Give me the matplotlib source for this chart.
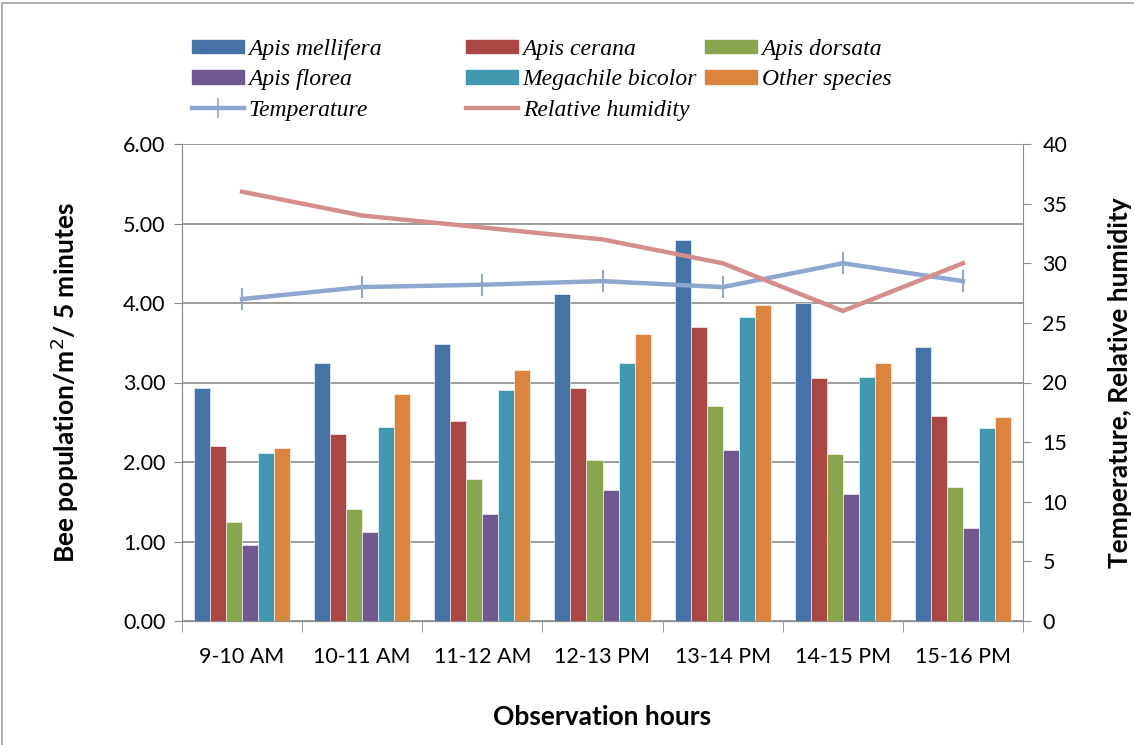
import numpy as np
import matplotlib
matplotlib.use("Agg")
import matplotlib.pyplot as plt
from matplotlib.patches import Rectangle
from matplotlib.lines import Line2D
from matplotlib.patches import Patch

hours = ["9-10 AM", "10-11 AM", "11-12 AM", "12-13 PM", "13-14 PM", "14-15 PM", "15-16 PM"]
species = ["Apis mellifera", "Apis cerana", "Apis dorsata", "Apis florea",
           "Megachile bicolor", "Other species"]
mellifera = [2.93, 3.25, 3.48, 4.11, 4.79, 4.00, 3.45]
cerana = [2.20, 2.35, 2.51, 2.93, 3.70, 3.06, 2.58]
dorsata = [1.25, 1.41, 1.78, 2.02, 2.70, 2.10, 1.68]
florea = [0.96, 1.12, 1.34, 1.65, 2.15, 1.60, 1.17]
megachile = [2.11, 2.44, 2.90, 3.25, 3.82, 3.07, 2.43]
other = [2.18, 2.85, 3.16, 3.61, 3.98, 3.25, 2.56]
temperature = [27, 28, 28.2, 28.5, 28, 30, 28.5]
humidity = [36, 34, 33, 32, 30, 26, 30]

bar_colors = ["#4572A7", "#AA4643", "#89A54E", "#71588F", "#4198AF", "#DB843D"]
temp_color = "#8EA6D0"
hum_color = "#D48E8E"
grid_gray = "#8C8C8C"

plt.rcParams["font.family"] = ["Lato", "DejaVu Sans"]

fig = plt.figure(figsize=(11.34, 7.45), dpi=100)
ax = fig.add_axes([182 / 1134, 1 - 621 / 745, (1023 - 182) / 1134, (621 - 144) / 745])

x = np.arange(len(hours))
w = 0.8 / 6
series = [mellifera, cerana, dorsata, florea, megachile, other]
for i, vals in enumerate(series):
    ax.bar(x - 0.4 + w * (i + 0.5), vals, width=w, color=bar_colors[i],
           edgecolor="white", linewidth=0.4, zorder=3)

ax.set_xlim(-0.5, len(hours) - 0.5)
ax.set_ylim(0, 6)
ax.set_yticks(np.arange(0, 6.01, 1))
ax.set_yticklabels([f"{v:.2f}" for v in np.arange(0, 6.01, 1)])
ax.yaxis.grid(True, color=grid_gray, linewidth=1.2, zorder=0)
ax.set_axisbelow(True)
ax.set_xticks(x)
ax.set_xticklabels(hours)
ax.set_xticks(np.arange(-0.5, len(hours), 1), minor=True)
ax.tick_params(axis="x", which="major", length=0, pad=19, labelsize=15.5)
ax.tick_params(axis="x", which="minor", length=8, color=grid_gray, direction="out")
ax.tick_params(axis="y", length=6, color=grid_gray, labelsize=15.5, pad=6)
for s in ["left", "bottom", "top", "right"]:
    ax.spines[s].set_color(grid_gray)
ax.spines["top"].set_visible(False)
ax.spines["right"].set_visible(False)
ax.set_ylabel("Bee population/m$^2$/ 5 minutes", fontsize=19, fontweight="bold", labelpad=30)
ax.set_xlabel("Observation hours", fontsize=19, fontweight="bold", labelpad=27)

ax2 = ax.twinx()
ax2.plot(x, temperature, color=temp_color, linewidth=3.2, marker="|",
         markersize=16, markeredgewidth=1.5, zorder=5)
ax2.plot(x, humidity, color=hum_color, linewidth=3.2, zorder=5)
ax2.set_ylim(0, 40)
ax2.set_yticks(np.arange(0, 41, 5))
ax2.tick_params(axis="y", length=6, color=grid_gray, labelsize=15.5, pad=8)
for s in ["left", "bottom", "top", "right"]:
    ax2.spines[s].set_color(grid_gray)
ax2.spines["top"].set_visible(False)
ax2.set_ylabel("Temperature, Relative humidity", fontsize=19, fontweight="bold", labelpad=29)

# legend, three columns placed separately
leg_font = {"family": ["Liberation Serif", "DejaVu Serif"], "style": "italic", "size": 17}
h = [Patch(color=c) for c in bar_colors]
h_temp = Line2D([], [], color=temp_color, linewidth=3.2, marker="|", markersize=14, markeredgewidth=1.2)
h_hum = Line2D([], [], color=hum_color, linewidth=3.2)
cols = [
    ([h[0], h[3], h_temp], [species[0], species[3], "Temperature"], 192),
    ([h[1], h[4], h_hum], [species[1], species[4], "Relative humidity"], 466),
    ([h[2], h[5]], [species[2], species[5]], 705),
]
for handles, labels, xpos in cols:
    fig.legend(handles, labels, loc="upper left", bbox_to_anchor=(xpos / 1134, 1 - 39 / 745),
               frameon=False, prop=leg_font, handlelength=2.2, handleheight=0.5,
               handletextpad=0.2, labelspacing=0.4, borderpad=0, borderaxespad=0)

fig.patches.append(Rectangle((0.002, -0.01), 1.2, 1.006, transform=fig.transFigure,
                             fill=False, edgecolor="#A0A0A0", linewidth=1.2))

fig.savefig("out.png", dpi=100)
